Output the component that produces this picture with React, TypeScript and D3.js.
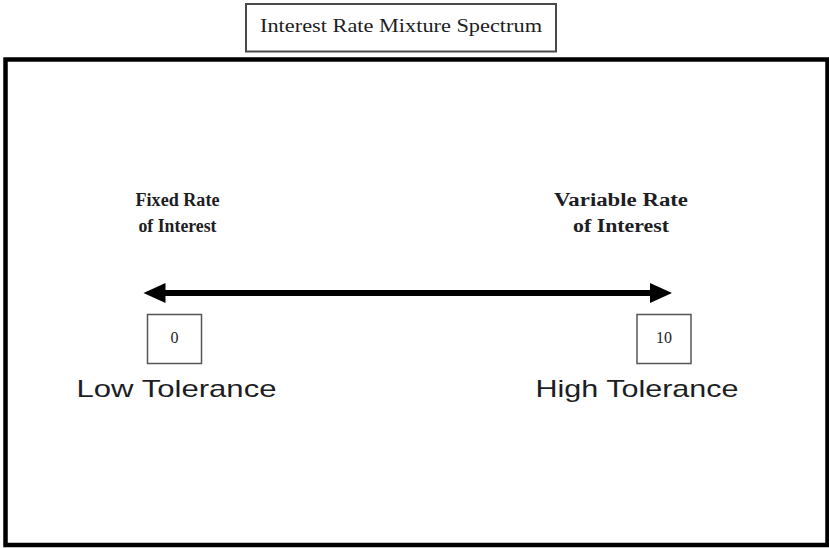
import * as d3 from "d3";

const width = 829;
const height = 548;

// spectrum end points
const endValues = [0, 10];
const endHeadings = [
  ["Fixed Rate", "of Interest"],
  ["Variable Rate", "of Interest"],
];
const endToleranceLabels = ["Low Tolerance", "High Tolerance"];
const title = "Interest Rate Mixture Spectrum";

const SERIF = "'Liberation Serif', 'DejaVu Serif', serif";
const SANS = "'Liberation Sans', Arial, sans-serif";
const INK = "#1d1d24";

export default function App() {
  // box centres along the spectrum
  const x = d3.scaleLinear().domain([0, 10]).range([174.5, 664]);
  const arrowY = 293;
  const left = x(endValues[0]) - 31;
  const right = x(endValues[1]) + 8;
  const headLen = 22;
  const headHalf = 10;

  const shaft = d3.line()([
    [left + headLen - 2, arrowY],
    [right - headLen + 2, arrowY],
  ]);
  const headL = d3.line()([
    [left, arrowY],
    [left + headLen, arrowY - headHalf],
    [left + headLen, arrowY + headHalf],
  ]) + "Z";
  const headR = d3.line()([
    [right, arrowY],
    [right - headLen, arrowY - headHalf],
    [right - headLen, arrowY + headHalf],
  ]) + "Z";

  const headingWidths = [[84, 78], [134, 96]];
  const tolWidths = [200, 203];

  return (
    <svg
      width={width}
      height={height}
      style={{ position: "absolute", left: 0, top: 0, background: "#fff" }}
    >
      {/* title box */}
      <rect x={246} y={4} width={310} height={47.5} fill="#fff" stroke="#4a4a4a" strokeWidth={2} />
      <text
        x={401}
        y={32}
        textAnchor="middle"
        fontFamily={SERIF}
        fontSize={19}
        fill={INK}
        textLength={282}
        lengthAdjust="spacingAndGlyphs"
      >
        {title}
      </text>

      {/* outer frame */}
      <rect x={5.5} y={59.5} width={822} height={485.5} fill="none" stroke="#000" strokeWidth={4.5} />

      {/* arrow */}
      <path d={shaft || ""} stroke="#000" strokeWidth={6} fill="none" />
      <path d={headL} fill="#000" />
      <path d={headR} fill="#000" />

      {endValues.map((v, i) => (
        <g key={v}>
          {endHeadings[i].map((line, j) => (
            <text
              key={j}
              x={i === 0 ? x(v) + 3 : x(v) - 43}
              y={206 + j * 26}
              textAnchor="middle"
              fontFamily={SERIF}
              fontWeight="bold"
              fontSize={18}
              fill={INK}
              textLength={headingWidths[i][j]}
              lengthAdjust="spacingAndGlyphs"
            >
              {line}
            </text>
          ))}
          <rect
            x={x(v) - 27}
            y={314.5}
            width={54}
            height={49}
            fill="#fff"
            stroke="#555"
            strokeWidth={1.5}
          />
          <text
            x={x(v)}
            y={343}
            textAnchor="middle"
            fontFamily={SERIF}
            fontSize={16}
            fill={INK}
          >
            {v}
          </text>
          <text
            x={i === 0 ? x(v) + 2 : x(v) - 27}
            y={397}
            textAnchor="middle"
            fontFamily={SANS}
            fontSize={24}
            fill={INK}
            textLength={tolWidths[i]}
            lengthAdjust="spacingAndGlyphs"
          >
            {endToleranceLabels[i]}
          </text>
        </g>
      ))}
    </svg>
  );
}
